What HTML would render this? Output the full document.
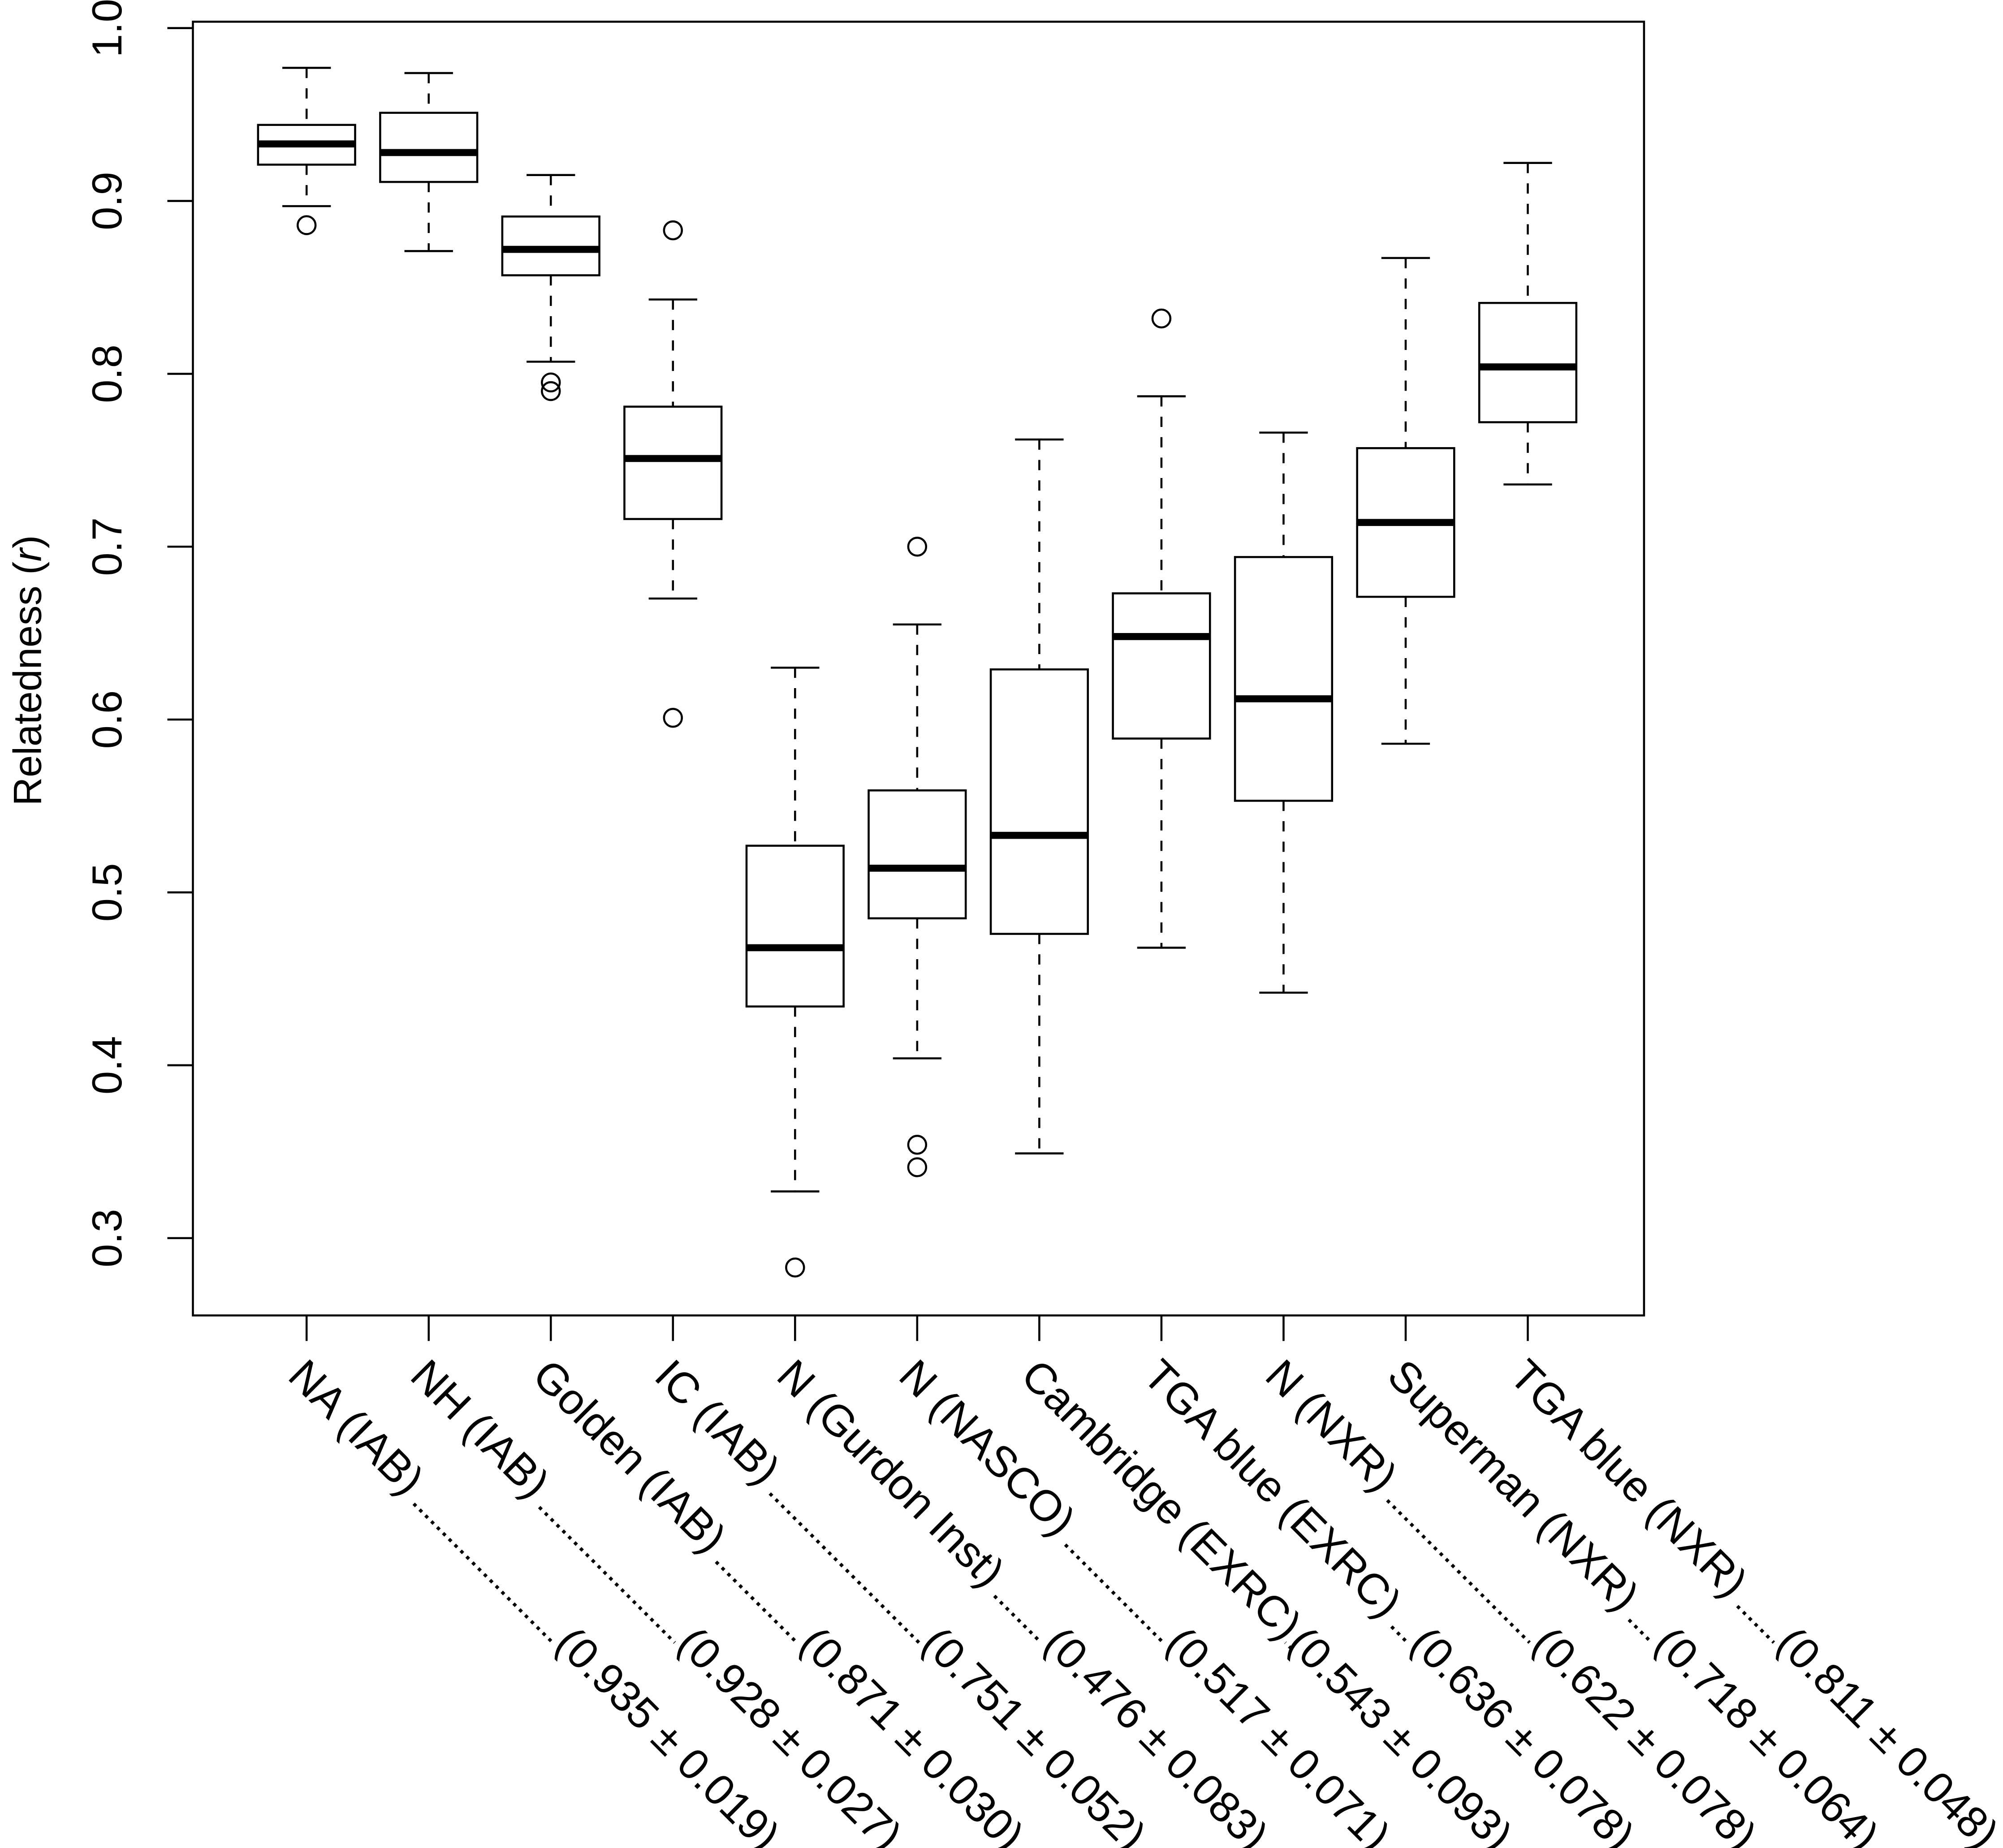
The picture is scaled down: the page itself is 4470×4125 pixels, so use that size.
<!DOCTYPE html>
<html><head><meta charset="utf-8"><style>
html,body{margin:0;padding:0;background:#fff;}
svg{display:block;}
text{font-family:"Liberation Sans",Arial,sans-serif;fill:#000;}
</style></head><body>
<svg id="chart" width="4470" height="4125" viewBox="0 0 1568 1447" xmlns="http://www.w3.org/2000/svg">
<rect x="151" y="17" width="1136" height="1013" fill="none" stroke="#000" stroke-width="1.6"/>
<g id="yaxis"></g>
<g id="xaxis"></g>
<g id="boxes"></g>
<text transform="translate(32,525) rotate(-90)" text-anchor="middle" font-size="31">Relatedness (<tspan font-style="italic">r</tspan>)</text>
</svg>
<script>
const categories = ["NA (IAB)","NH (IAB)","Golden (IAB)","IC (IAB)","N (Gurdon Inst)","N (NASCO)","Cambridge (EXRC)","TGA blue (EXRC)","N (NXR)","Superman (NXR)","TGA blue (NXR)"];
const meanLabels = ["(0.935 ± 0.019)","(0.928 ± 0.027)","(0.871 ± 0.030)","(0.751 ± 0.052)","(0.476 ± 0.083)","(0.517 ± 0.071)","(0.543 ± 0.093)","(0.636 ± 0.078)","(0.622 ± 0.078)","(0.718 ± 0.064)","(0.811 ± 0.048)"];
const whiskerHigh = [0.977,0.974,0.915,0.843,0.630,0.655,0.762,0.787,0.766,0.867,0.922];
const q3 = [0.944,0.951,0.891,0.781,0.527,0.559,0.629,0.673,0.694,0.757,0.841];
const medians = [0.933,0.928,0.872,0.751,0.468,0.514,0.533,0.648,0.612,0.714,0.804];
const q1 = [0.921,0.911,0.857,0.716,0.434,0.485,0.476,0.589,0.553,0.671,0.772];
const whiskerLow = [0.897,0.871,0.807,0.670,0.327,0.404,0.349,0.468,0.442,0.586,0.736];
const outliers = [[0.886],[],[0.795,0.790],[0.883,0.601],[0.283],[0.700,0.354,0.341],[],[0.832],[],[],[]];
const yTicks = [0.3,0.4,0.5,0.6,0.7,0.8,0.9,1.0];
const yTickLabels = ["0.3","0.4","0.5","0.6","0.7","0.8","0.9","1.0"];

const NS="http://www.w3.org/2000/svg";
function y(v){return 22+(1.0-v)*1353.5;}
function x(i){return 240+i*95.6;}
function mk(tag,attrs,parent){const e=document.createElementNS(NS,tag);for(const k in attrs)e.setAttribute(k,attrs[k]);parent.appendChild(e);return e;}

const ya=document.getElementById('yaxis');
yTicks.forEach((t,i)=>{
  const l=mk('line',{x1:131,x2:151,y1:y(t),y2:y(t),stroke:'#000','stroke-width':1.6},ya);
  
  
  const tx=mk('text',{transform:`translate(95,${y(t)}) rotate(-90)`,'text-anchor':'middle','font-size':33},ya);
  
  
  tx.textContent=yTickLabels[i];
});

const xa=document.getElementById('xaxis');
mk('line',{x1:x(0),x2:x(categories.length-1),y1:1030,y2:1030,stroke:'#000','stroke-width':1.6},xa);
const bx=document.getElementById('boxes');
categories.forEach((c,i)=>{
  const cx=x(i), hw=38;
  const t=mk('line',{x1:cx,x2:cx,y1:1030,y2:1050,stroke:'#000','stroke-width':1.6},xa);
  
  
  const g=mk('g',{transform:`translate(${cx-16},1079) rotate(45)`},xa);
  
  
  const lt=mk('text',{x:0,y:0,'font-size':34},g);
  lt.textContent=c;
  const vt=mk('text',{x:296,y:0,'font-size':34},g);
  vt.textContent=meanLabels[i];
  let w=lt.getComputedTextLength?lt.getComputedTextLength():150;
  if(!w)w=c.length*18;
  mk('line',{x1:w+8,x2:294,y1:-1,y2:-1,stroke:'#000','stroke-width':2.6,'stroke-dasharray':'2.6 3.9'},g);

  const bg=mk('g',{},bx);
  
  
  mk('line',{x1:cx,x2:cx,y1:y(whiskerHigh[i]),y2:y(q3[i]),stroke:'#000','stroke-width':1.6,'stroke-dasharray':'8 8'},bg);
  mk('line',{x1:cx,x2:cx,y1:y(q1[i]),y2:y(whiskerLow[i]),stroke:'#000','stroke-width':1.6,'stroke-dasharray':'8 8'},bg);
  mk('line',{x1:cx-19,x2:cx+19,y1:y(whiskerHigh[i]),y2:y(whiskerHigh[i]),stroke:'#000','stroke-width':1.6},bg);
  mk('line',{x1:cx-19,x2:cx+19,y1:y(whiskerLow[i]),y2:y(whiskerLow[i]),stroke:'#000','stroke-width':1.6},bg);
  mk('rect',{x:cx-hw,y:y(q3[i]),width:hw*2,height:y(q1[i])-y(q3[i]),fill:'#fff',stroke:'#000','stroke-width':1.6},bg);
  mk('line',{x1:cx-hw,x2:cx+hw,y1:y(medians[i]),y2:y(medians[i]),stroke:'#000','stroke-width':5.5},bg);
  outliers[i].forEach(o=>{
    const c2=mk('circle',{cx:cx,cy:y(o),r:7,fill:'none',stroke:'#000','stroke-width':1.6},bg);
    
    
  });
});
</script>
</body></html>
